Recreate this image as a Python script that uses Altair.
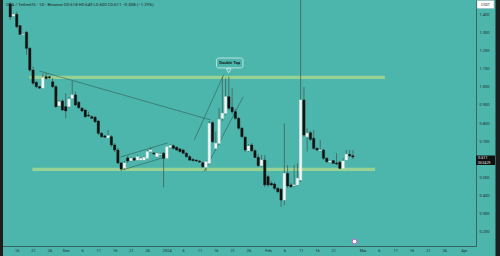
import json
import altair as alt
import pandas as pd

# ---------------- data ----------------
dates = pd.date_range("2023-11-14", periods=106, freq="D")

opens = [1.461, 1.394, 1.404, 1.341, 1.292, 1.304, 1.215, 1.094, 1.026, 1.002,
         0.994, 1.057, 1.057, 1.029, 1.002, 0.896, 0.922, 0.891, 0.891, 0.937,
         0.956, 0.915, 0.882, 0.872, 0.844, 0.835, 0.832, 0.811, 0.743, 0.728,
         0.718, 0.724, 0.678, 0.650, 0.578, 0.550, 0.606, 0.591, 0.604, 0.594,
         0.594, 0.594, 0.604, 0.642, 0.633, 0.613, 0.625, 0.632, 0.604, 0.665,
         0.674, 0.665, 0.656, 0.650, 0.632, 0.613, 0.598, 0.594, 0.589, 0.579,
         0.554, 0.576, 0.802, 0.659, 0.687, 0.826, 0.854, 0.946, 0.887, 0.863,
         0.826, 0.771, 0.721, 0.646, 0.678, 0.646, 0.609, 0.563, 0.594, 0.502,
         0.465, 0.461, 0.437, 0.432, 0.372, 0.520, 0.456, 0.453, 0.456, 0.483,
         0.928, 0.724, 0.746, 0.715, 0.659, 0.647, 0.650, 0.604, 0.583, 0.591,
         0.578, 0.582, 0.548, 0.594, 0.626, 0.618]
highs = [1.472, 1.411, 1.418, 1.344, 1.300, 1.311, 1.222, 1.113, 1.033, 1.006,
         1.076, 1.076, 1.061, 1.050, 1.011, 0.928, 0.933, 0.965, 0.944, 1.033,
         0.974, 0.922, 0.889, 0.878, 0.863, 0.844, 0.839, 0.817, 0.750, 0.733,
         0.761, 0.733, 0.689, 0.661, 0.583, 0.589, 0.617, 0.611, 0.611, 0.622,
         0.611, 0.617, 0.650, 0.665, 0.639, 0.639, 0.636, 0.639, 0.672, 0.683,
         0.681, 0.672, 0.661, 0.656, 0.639, 0.622, 0.603, 0.597, 0.594, 0.586,
         0.594, 0.811, 0.811, 0.752, 0.883, 1.057, 1.048, 1.057, 0.994, 0.878,
         0.833, 0.778, 0.728, 0.683, 0.689, 0.656, 0.628, 0.622, 0.622, 0.511,
         0.478, 0.472, 0.444, 0.439, 0.798, 0.567, 0.467, 0.567, 0.576, 1.600,
         1.000, 0.771, 0.756, 0.761, 0.667, 0.706, 0.656, 0.611, 0.594, 0.594,
         0.632, 0.589, 0.606, 0.650, 0.650, 0.649]
lows = [1.372, 1.389, 1.326, 1.289, 1.289, 1.178, 1.083, 1.011, 0.994, 0.989,
        0.989, 1.039, 1.044, 0.994, 0.883, 0.889, 0.867, 0.826, 0.883, 0.933,
        0.894, 0.878, 0.861, 0.828, 0.833, 0.822, 0.800, 0.733, 0.717, 0.717,
        0.715, 0.667, 0.639, 0.572, 0.533, 0.539, 0.578, 0.583, 0.589, 0.589,
        0.589, 0.589, 0.600, 0.636, 0.622, 0.606, 0.617, 0.444, 0.600, 0.658,
        0.653, 0.644, 0.636, 0.628, 0.608, 0.589, 0.586, 0.583, 0.578, 0.550,
        0.533, 0.567, 0.689, 0.650, 0.678, 0.811, 0.844, 0.872, 0.850, 0.817,
        0.761, 0.717, 0.639, 0.639, 0.639, 0.606, 0.556, 0.556, 0.444, 0.444,
        0.450, 0.428, 0.411, 0.335, 0.344, 0.439, 0.439, 0.444, 0.450, 0.472,
        0.722, 0.642, 0.700, 0.650, 0.644, 0.642, 0.594, 0.578, 0.578, 0.572,
        0.567, 0.544, 0.544, 0.589, 0.611, 0.600]
closes = [1.389, 1.404, 1.335, 1.293, 1.294, 1.215, 1.094, 1.021, 1.002, 0.994,
          1.052, 1.048, 1.052, 1.002, 0.891, 0.918, 0.872, 0.867, 0.933, 0.956,
          0.900, 0.885, 0.867, 0.835, 0.839, 0.826, 0.807, 0.743, 0.724, 0.721,
          0.729, 0.678, 0.650, 0.578, 0.544, 0.578, 0.589, 0.604, 0.594, 0.613,
          0.603, 0.609, 0.641, 0.650, 0.628, 0.632, 0.628, 0.604, 0.668, 0.674,
          0.659, 0.650, 0.641, 0.632, 0.613, 0.594, 0.591, 0.589, 0.583, 0.557,
          0.585, 0.798, 0.696, 0.687, 0.820, 0.854, 0.946, 0.882, 0.863, 0.826,
          0.771, 0.724, 0.650, 0.672, 0.646, 0.609, 0.563, 0.594, 0.456, 0.456,
          0.456, 0.437, 0.418, 0.372, 0.520, 0.450, 0.446, 0.456, 0.493, 0.928,
          0.733, 0.743, 0.709, 0.659, 0.650, 0.650, 0.604, 0.585, 0.589, 0.576,
          0.572, 0.548, 0.589, 0.626, 0.618, 0.611]

# x-axis ticks (days since 16 Nov 2023) and their labels
tick_days = [0, 5, 10, 15, 20, 25, 30, 35, 40, 46, 51, 56, 61, 66, 71, 77, 82, 87,
             92, 97, 106, 111, 116, 121, 126, 131, 137]
tick_labels = ["16", "21", "26", "Dec", "6", "11", "16", "21", "26", "2024", "6",
               "11", "16", "21", "26", "Feb", "6", "11", "16", "21", "Mar", "6",
               "11", "16", "21", "26", "Apr"]
# 0.600 is hidden behind the last-price tag in the reference
price_ticks = [0.2, 0.3, 0.4, 0.5, 0.7, 0.8, 0.9, 1.0, 1.1, 1.2, 1.3, 1.4]

# support/resistance zones: start day, end day, lower price, upper price
zone_x1 = [3.9, 4.8]
zone_x2 = [112.8, 109.8]
zone_lo = [1.044, 0.533]
zone_hi = [1.062, 0.551]

# drawn trend lines: start day, start price, end day, end price
tl_x1 = [6.9, 54.4, 57.4, 31.8, 32.4]
tl_y1 = [1.089, 0.706, 0.530, 0.611, 0.539]
tl_x2 = [59.4, 63.4, 69.4, 46.2, 45.9]
tl_y2 = [0.817, 1.067, 0.946, 0.689, 0.613]

header = "ORA / TetherUS · 1D · Binance   O0.618  H0.649  L0.600  C0.611  −0.008 (−1.29%)"

# ---------------- build ----------------
BG = "#4db6ac"
base_day = pd.Timestamp("2023-11-16")
df = pd.DataFrame({"day": (dates - base_day).days, "open": opens, "high": highs,
                   "low": lows, "close": closes})
df["body_lo"] = df[["open", "close"]].min(axis=1)
df["body_hi"] = df[["open", "close"]].max(axis=1)
df["dir"] = ["up" if c >= o else "down" for o, c in zip(df["open"], df["close"])]

zones = pd.DataFrame({"x1": zone_x1, "x2": zone_x2, "lo": zone_lo, "hi": zone_hi})
tlines = pd.DataFrame({"x1": tl_x1, "y1": tl_y1, "x2": tl_x2, "y2": tl_y2})

xscale = alt.Scale(domain=[-3.6, 139.2], nice=False, zero=False)
yscale = alt.Scale(domain=[0.1167, 1.4833], nice=False, zero=False)

label_expr = f"{json.dumps(tick_labels)}[indexof({json.dumps(tick_days)}, datum.value)]"
xaxis = alt.Axis(values=tick_days, labelExpr=label_expr, grid=False, ticks=False,
                 title=None, labelFontSize=4, labelColor="#1e2b2a", labelPadding=2,
                 domainColor="#33504d", domainWidth=0.8, labelFont="Roboto",
                 labelOverlap=False)
yaxis = alt.Axis(values=price_ticks, format=".3f", orient="right", grid=False,
                 ticks=False, title=None, labelFontSize=4, labelColor="#1e2b2a",
                 labelPadding=3, domainColor="#33504d", domainWidth=0.8,
                 labelFont="Roboto")

X = lambda f: alt.X(f, type="quantitative", scale=xscale, axis=xaxis)
Y = lambda f: alt.Y(f, type="quantitative", scale=yscale, axis=yaxis)

zone_layer = alt.Chart(zones).mark_rect(color="#a6d68f", opacity=0.85).encode(
    x=X("x1"), x2="x2", y=Y("lo"), y2="hi")

trend_layer = alt.Chart(tlines).mark_rule(color="#2c4744", strokeWidth=0.6,
                                          opacity=0.85).encode(
    x=X("x1"), y=Y("y1"), x2="x2", y2="y2")

wick_layer = alt.Chart(df).mark_rule(color="#44524f", strokeWidth=0.7, clip=True).encode(
    x=X("day"), y=Y("low"), y2="high")

body_layer = alt.Chart(df).mark_bar(size=2.3, strokeWidth=0.4).encode(
    x=X("day"), y=Y("body_lo"), y2="body_hi",
    color=alt.Color("dir:N", scale=alt.Scale(domain=["up", "down"],
                                             range=["#f4f4f4", "#111111"]), legend=None),
    stroke=alt.Stroke("dir:N", scale=alt.Scale(domain=["up", "down"],
                                               range=["#f4f4f4", "#111111"]), legend=None))

# callout "Double Top"
callout_df = pd.DataFrame({"x1": [61.2], "x2": [69.3], "lo": [1.106], "hi": [1.161],
                           "cx": [65.25], "cy": [1.133], "tx": [64.95], "ty": [1.090],
                           "label": ["Double Top"]})
pointer = alt.Chart(callout_df).mark_point(shape="triangle-down", size=22, filled=True,
                                           fill=BG, stroke="#e9f6f4", strokeWidth=0.7,
                                           opacity=1).encode(x=X("tx"), y=Y("ty"))
box = alt.Chart(callout_df).mark_rect(fill=BG, stroke="#e9f6f4", strokeWidth=0.7,
                                      cornerRadius=2).encode(
    x=X("x1"), x2="x2", y=Y("lo"), y2="hi")
box_text = alt.Chart(callout_df).mark_text(fontSize=4.2, color="#142423", font="Roboto",
                                           fontWeight="bold").encode(
    x=X("cx"), y=Y("cy"), text="label:N")

# header line
hdr = alt.Chart(pd.DataFrame({"t": [header]})).mark_text(
    align="left", baseline="middle", fontSize=4.3, color="#1a2221", font="Roboto").encode(
    x=alt.value(6), y=alt.value(4.5), text="t:N")

# right-side decorations
usdt_box = alt.Chart(pd.DataFrame({"a": [0]})).mark_rect(
    fill="#ffffff", stroke="#9aa", strokeWidth=0.4).encode(
    x=alt.value(477), x2=alt.value(494), y=alt.value(0.5), y2=alt.value(8.5))
usdt_txt = alt.Chart(pd.DataFrame({"t": ["USDT"]})).mark_text(
    fontSize=3.6, color="#333333", font="Roboto", baseline="middle").encode(
    x=alt.value(485.5), y=alt.value(4.6), text="t:N")
price_box = alt.Chart(pd.DataFrame({"a": [0]})).mark_rect(fill="#101010").encode(
    x=alt.value(476), x2=alt.value(495), y=alt.value(155.5), y2=alt.value(165))
price_txt = alt.Chart(pd.DataFrame({"t": ["0.611", "05:34:29"], "yy": [158.3, 162.6],
                                    "fs": [3.8, 3.2]})).mark_text(
    align="left", baseline="middle", color="#f0f0f0", font="Roboto").encode(
    x=alt.value(478), y=alt.Y("yy:Q", scale=None), text="t:N",
    size=alt.Size("fs:Q", scale=None, legend=None))

icon = alt.Chart(pd.DataFrame({"d": [103.5]})).mark_point(
    shape="circle", size=22, filled=True, fill="#ffffff", stroke="#d045d6",
    strokeWidth=0.9, opacity=1).encode(x=X("d"), y=alt.value(241.5))

strip_l = alt.Chart(pd.DataFrame({"a": [0]})).mark_rect(fill="#1d1f1f").encode(
    x=alt.value(0), x2=alt.value(3), y=alt.value(0), y2=alt.value(256))
strip_r = alt.Chart(pd.DataFrame({"a": [0]})).mark_rect(fill="#1d1f1f").encode(
    x=alt.value(495.5), x2=alt.value(500), y=alt.value(0), y2=alt.value(256))

chart = alt.layer(
    zone_layer, trend_layer, wick_layer, body_layer, pointer, box, box_text, hdr,
    usdt_box, usdt_txt, price_box, price_txt, icon, strip_l, strip_r
).resolve_scale(color="independent", stroke="independent").properties(
    width=476, height=246,
    padding={"left": 0, "top": 0, "right": 24, "bottom": 10},
    autosize=alt.AutoSizeParams(type="none"),
    background=BG,
).configure_view(stroke=None, fill=BG)

chart.save("out.html", embed_options={"renderer": "svg", "actions": False})
